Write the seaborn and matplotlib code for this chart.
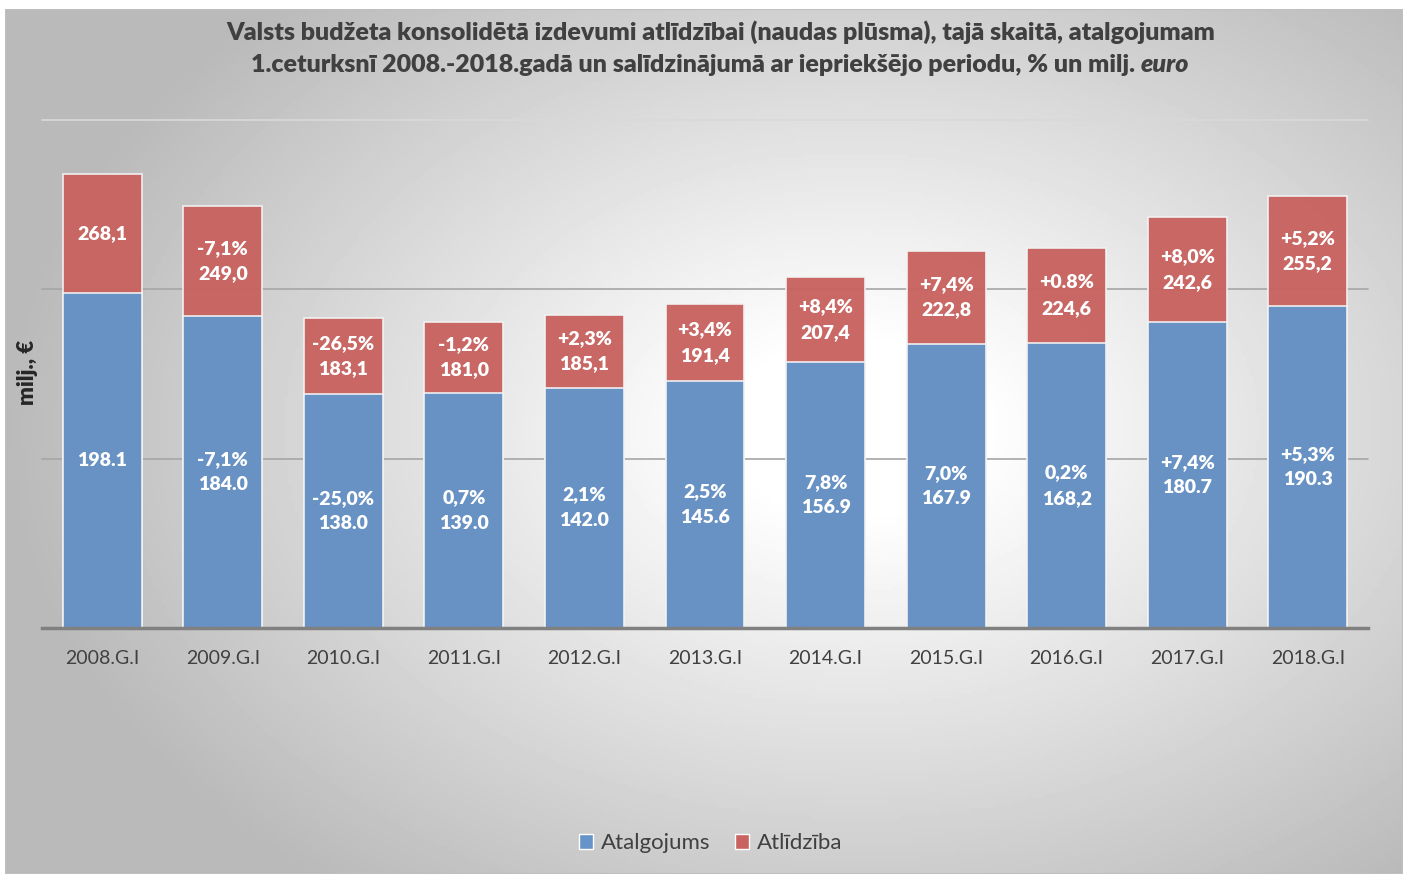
import numpy as np
import pandas as pd
import matplotlib

matplotlib.use('Agg')

import matplotlib.pyplot as plt
from matplotlib.patches import Patch, Rectangle
import seaborn as sns

sns.set_theme(style="white")
plt.rcParams['font.family'] = ['Lato', 'DejaVu Sans']

# data
periods = ['2008.G.I', '2009.G.I', '2010.G.I', '2011.G.I', '2012.G.I', '2013.G.I',
           '2014.G.I', '2015.G.I', '2016.G.I', '2017.G.I', '2018.G.I']
atlidziba = [268.1, 249.0, 183.1, 181.0, 185.1, 191.4, 207.4, 222.8, 224.6, 242.6, 255.2]
atalgojums = [198.1, 184.0, 138.0, 139.0, 142.0, 145.6, 156.9, 167.9, 168.2, 180.7, 190.3]
atlidziba_labels = ['268,1', '-7,1%\n249,0', '-26,5%\n183,1', '-1,2%\n181,0', '+2,3%\n185,1',
                    '+3,4%\n191,4', '+8,4%\n207,4', '+7,4%\n222,8', '+0.8%\n224,6',
                    '+8,0%\n242,6', '+5,2%\n255,2']
atalgojums_labels = ['198.1', '-7,1%\n184.0', '-25,0%\n138.0', '0,7%\n139.0', '2,1%\n142.0',
                     '2,5%\n145.6', '7,8%\n156.9', '7,0%\n167.9', '0,2%\n168,2',
                     '+7,4%\n180.7', '+5,3%\n190.3']

df = pd.DataFrame({'period': periods, 'atlidziba': atlidziba, 'atalgojums': atalgojums})

blue = '#6694C8'
red = '#C86360'
W, H = 1407, 874

fig = plt.figure(figsize=(W / 100, H / 100), dpi=100, facecolor='white')

# radial gradient background of the chart area
bg = fig.add_axes([5 / W, 0, 1398 / W, 865 / H], zorder=-1)
xx, yy = np.meshgrid(np.linspace(0, 1398, 400), np.linspace(0, 865, 250))
d = np.sqrt(((xx - 850) / 820) ** 2 + ((yy - 420) / 560) ** 2)
shade = 1 - 0.27 * np.clip((d - 0.15) / 0.88, 0, 1)
bg.imshow(shade, cmap='gray', vmin=0, vmax=1, aspect='auto', extent=[0, 1, 0, 1], origin='upper')
bg.add_patch(Rectangle((0, 0), 1, 1, transform=bg.transAxes, fill=False,
                       edgecolor='#BFBFBF', lw=1.5))
bg.axis('off')

ax = fig.add_axes([42 / W, (H - 628) / H, 1326 / W, 508 / H])
ax.set_facecolor('none')

sns.barplot(data=df, x='period', y='atlidziba', color=red, saturation=1, alpha=0.97,
            width=0.655, edgecolor='#F2F2F2', linewidth=1.2, ax=ax, zorder=3)
sns.barplot(data=df, x='period', y='atalgojums', color=blue, saturation=1, alpha=0.97,
            width=0.655, edgecolor='#F2F2F2', linewidth=1.2, ax=ax, zorder=4)

lkw = dict(ha='center', va='center', color='white', fontsize=14, fontweight='heavy',
           linespacing=1.6, zorder=5)
for i in range(len(periods)):
    ax.text(i, atalgojums[i] / 2, atalgojums_labels[i], **lkw)
    ax.text(i, (atalgojums[i] + atlidziba[i]) / 2, atlidziba_labels[i], **lkw)

ax.set_xlim(-0.5, len(periods) - 0.5)
ax.set_ylim(0, 300)
ax.set_yticks([100, 200, 300])
ax.set_yticklabels([])
ax.yaxis.grid(True, color='#A6A6A6', lw=1.2)
ax.get_ygridlines()[2].set_color('#D9D9D9')
for gl in ax.get_ygridlines():
    gl.set_clip_on(False)
ax.set_axisbelow(True)
for s in ['top', 'right', 'left']:
    ax.spines[s].set_visible(False)
ax.spines['bottom'].set_color('#808080')
ax.spines['bottom'].set_linewidth(2.5)
ax.spines['bottom'].set_zorder(6)
ax.tick_params(axis='x', length=0, pad=16, labelsize=14, labelcolor='#404040')
ax.tick_params(axis='y', length=0)
ax.set_xlabel('')
ax.set_ylabel('')

fig.text(28 / W, 1 - 372 / H, 'milj., €', rotation=90, ha='center', va='center',
         fontsize=16, fontweight='heavy', color='#262626')

# title, second line has the italic "euro"
tkw = dict(fontsize=18, fontweight='heavy', color='#404040', va='center')
fig.text(0.512, 1 - 32 / H, 'Valsts budžeta konsolidētā izdevumi atlīdzībai (naudas plūsma), '
         'tajā skaitā, atalgojumam', ha='center', **tkw)
t1 = fig.text(0, 1 - 65 / H, '1.ceturksnī 2008.-2018.gadā un salīdzinājumā ar iepriekšējo '
              'periodu, % un milj. ', ha='left', **tkw)
t2 = fig.text(0, 1 - 65 / H, 'euro', ha='left', style='italic', **tkw)
r = fig.canvas.get_renderer()
w1 = t1.get_window_extent(r).width / W
w2 = t2.get_window_extent(r).width / W
x0 = 0.512 - (w1 + w2) / 2
t1.set_x(x0)
t2.set_x(x0 + w1)

handles = [Patch(facecolor=blue, label='Atalgojums'),
           Patch(facecolor=red, label='Atlīdzība')]
fig.legend(handles=handles, loc='center', bbox_to_anchor=(0.505, 1 - 843 / H), ncol=2,
           frameon=False, fontsize=16, handlelength=0.65, handleheight=0.65,
           handletextpad=0.35, columnspacing=1.1, labelcolor='#404040')

fig.savefig('out.png', dpi=100, facecolor='white')
